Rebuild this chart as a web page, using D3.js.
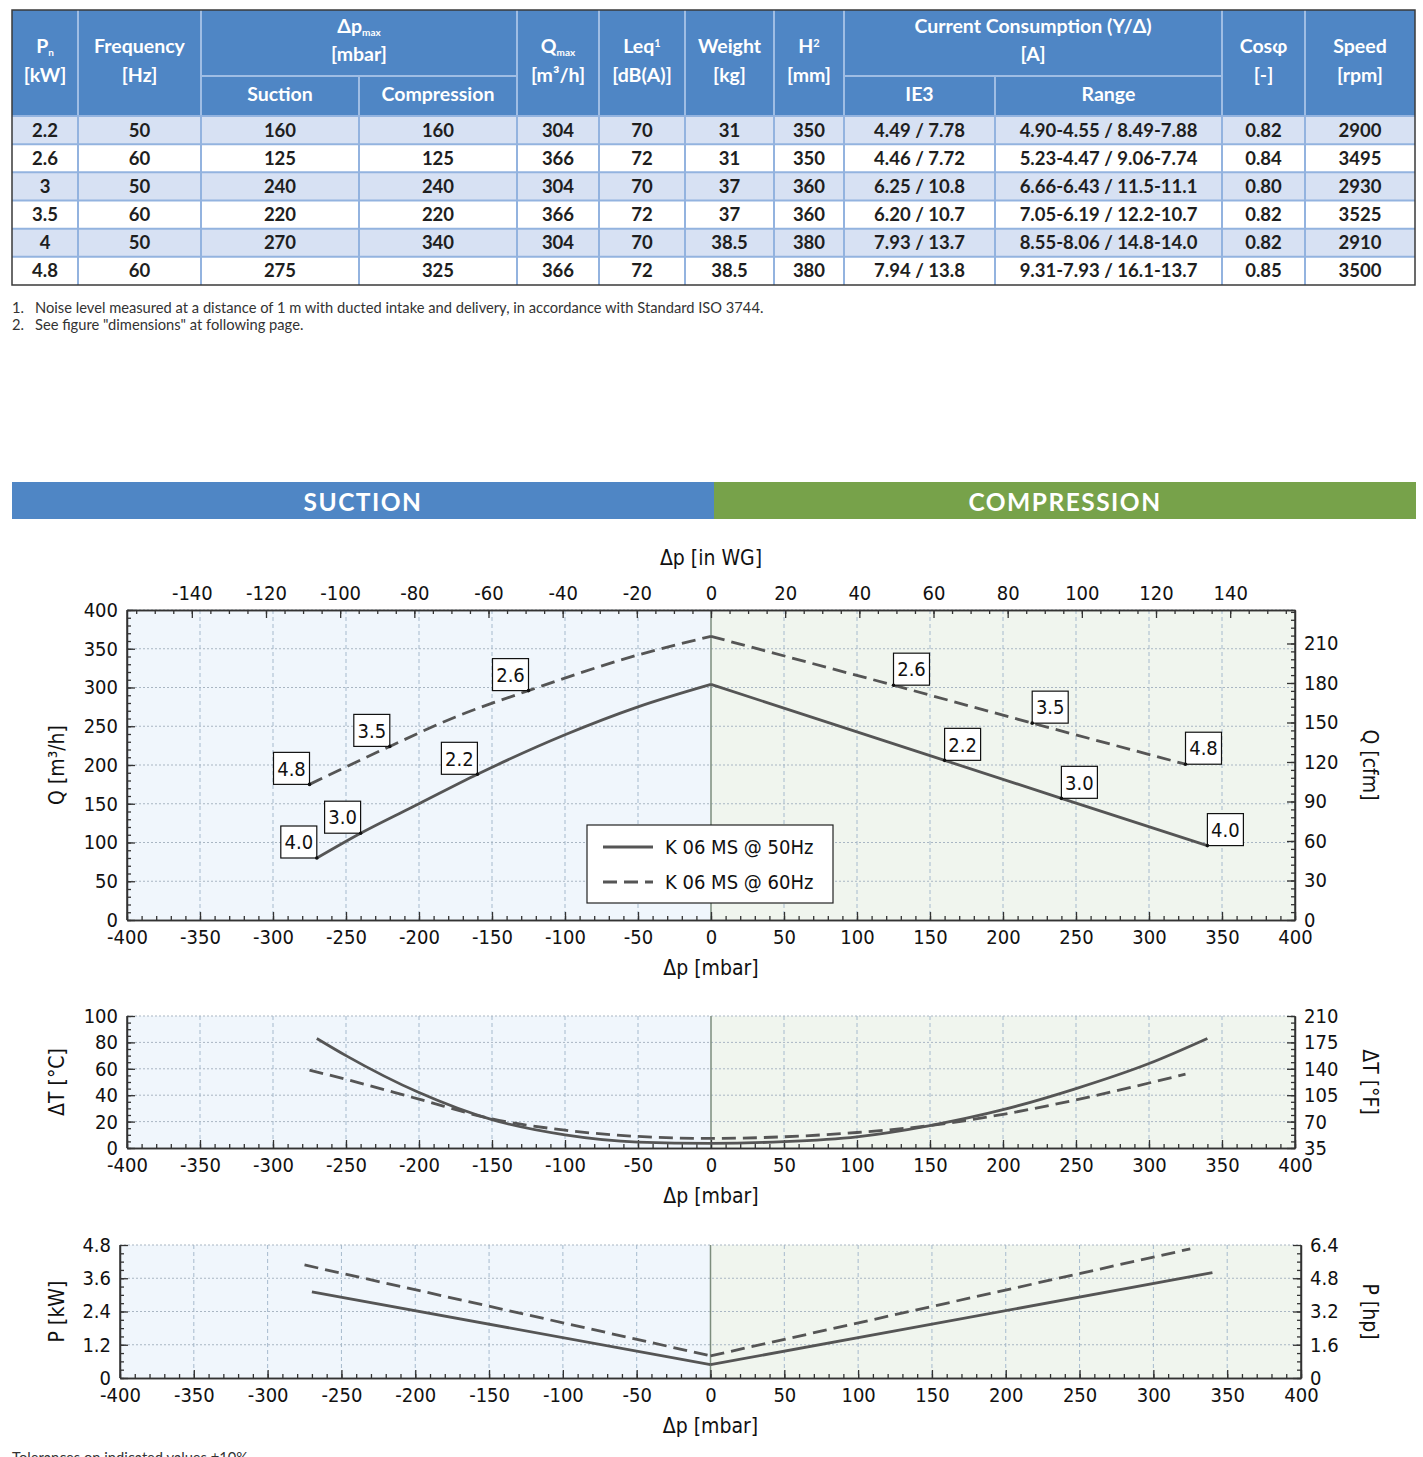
<!DOCTYPE html>
<html><head><meta charset="utf-8">
<script src="https://cdn.jsdelivr.net/npm/d3@7"></script>
<style>body{margin:0;background:#fff}svg{display:block}</style>
</head><body><svg id="c" width="1423" height="1457"></svg>
<script>
// ---------------- TABLE DATA ----------------
const pn = ["2.2","2.6","3","3.5","4","4.8"];
const freq = ["50","60","50","60","50","60"];
const dpSuction = ["160","125","240","220","270","275"];
const dpCompression = ["160","125","240","220","340","325"];
const qmax = ["304","366","304","366","304","366"];
const leq = ["70","72","70","72","70","72"];
const weight = ["31","31","37","37","38.5","38.5"];
const hDim = ["350","350","360","360","380","380"];
const ie3 = ["4.49 / 7.78","4.46 / 7.72","6.25 / 10.8","6.20 / 10.7","7.93 / 13.7","7.94 / 13.8"];
const currRange = ["4.90-4.55 / 8.49-7.88","5.23-4.47 / 9.06-7.74","6.66-6.43 / 11.5-11.1","7.05-6.19 / 12.2-10.7","8.55-8.06 / 14.8-14.0","9.31-7.93 / 16.1-13.7"];
const cosphi = ["0.82","0.84","0.80","0.82","0.82","0.85"];
const speed = ["2900","3495","2930","3525","2910","3500"];
const footnotes = ["Noise level measured at a distance of 1 m with ducted intake and delivery, in accordance with Standard ISO 3744.","See figure \"dimensions\" at following page."];

// ---------------- CHART DATA ----------------
// Q [m3/h] vs dp [mbar]
const q50Suction = [[-270,80],[-240,112],[-200,150],[-160,188],[-100,239],[-50,275],[0,304]];
const q50Compression = [[0,304],[160,206],[240,157],[340,96]];
const q60Suction = [[-275,175],[-220,224],[-175,262],[-125,296],[-50,342],[0,366]];
const q60Compression = [[0,366],[125,303],[220,254],[325,201]];
const pointLabels = [
  {dp:-270,q:80,t:"4.0"},{dp:-240,q:112,t:"3.0"},{dp:-160,q:188,t:"2.2"},
  {dp:-275,q:175,t:"4.8"},{dp:-220,q:224,t:"3.5"},{dp:-125,q:296,t:"2.6"},
  {dp:125,q:303,t:"2.6"},{dp:220,q:254,t:"3.5"},{dp:325,q:201,t:"4.8"},
  {dp:160,q:206,t:"2.2"},{dp:240,q:157,t:"3.0"},{dp:340,q:96,t:"4.0"}
];
// dT [°C]
const t50 = [[-270,83],[-250,70],[-200,42],[-150,21.5],[-100,10],[-50,4.5],[0,3.5],[50,4.8],[100,8.5],[150,17],[200,29],[250,45],[300,64],[340,83]];
const t60 = [[-275,59],[-250,52],[-200,37],[-150,22],[-100,13.5],[-50,8.75],[0,7.25],[50,8.5],[100,11.75],[150,17],[200,25.5],[250,36.5],[325,56]];
// P [kW]
const p50Suction = [[-270,3.11],[0,0.48]];
const p50Compression = [[0,0.48],[340,3.8]];
const p60Suction = [[-275,4.08],[0,0.8]];
const p60Compression = [[0,0.8],[325,4.66]];
const legendLabels = ["K 06 MS @ 50Hz","K 06 MS @ 60Hz"];

// ---------------- DRAW ----------------
const svg = d3.select("#c");
const TF = "Lato, 'Open Sans', sans-serif";
const CF = "'DejaVu Sans Condensed','Liberation Sans Narrow','DejaVu Sans',sans-serif";
const HEAD = "#4f86c5", ROWA = "#d7e1f3", SEP = "#93b3df", HSEP = "#9fbde4";
const plain = d => String(d);

// table
const colX = [12,78,201,359,517,599,685,774,844,995,1222,1305,1415];
const tTop = 10, hMid = 76, hBot = 116, rowH = 28.17;
const tg = svg.append("g");
tg.append("rect").attr("x",12).attr("y",tTop).attr("width",1403).attr("height",hBot-tTop).attr("fill",HEAD);
const cols = [pn,freq,dpSuction,dpCompression,qmax,leq,weight,hDim,ie3,currRange,cosphi,speed];
for(let r=0;r<6;r++){
  const y = hBot + r*rowH;
  tg.append("rect").attr("x",12).attr("y",y).attr("width",1403).attr("height",rowH).attr("fill", r%2===0?ROWA:"#fff");
  if(r>0) tg.append("line").attr("x1",12).attr("x2",1415).attr("y1",y).attr("y2",y).attr("stroke",SEP).attr("stroke-width",2);
  cols.forEach((c,i)=>{
    tg.append("text").attr("x",(colX[i]+colX[i+1])/2).attr("y",y+rowH/2+6.5)
      .attr("text-anchor","middle").attr("font-family",TF).attr("font-weight","bold").attr("font-size",18.5).attr("fill","#1e1e1e").text(c[r]);
  });
}
colX.slice(1,-1).forEach(x=>{
  const sub = (x===359||x===995);
  tg.append("line").attr("x1",x).attr("x2",x).attr("y1",sub?hMid:tTop).attr("y2",hBot).attr("stroke",HSEP).attr("stroke-width",2);
  tg.append("line").attr("x1",x).attr("x2",x).attr("y1",hBot).attr("y2",285).attr("stroke",SEP).attr("stroke-width",2);
});
tg.append("line").attr("x1",201).attr("x2",517).attr("y1",hMid).attr("y2",hMid).attr("stroke",HSEP).attr("stroke-width",2);
tg.append("line").attr("x1",844).attr("x2",1222).attr("y1",hMid).attr("y2",hMid).attr("stroke",HSEP).attr("stroke-width",2);
tg.append("line").attr("x1",12).attr("x2",1415).attr("y1",hBot).attr("y2",hBot).attr("stroke",SEP).attr("stroke-width",2);
tg.append("rect").attr("x",12).attr("y",tTop).attr("width",1403).attr("height",285-tTop).attr("fill","none").attr("stroke","#3a3a3a").attr("stroke-width",1.5);

function htext(cx,y,parts){
  const t = tg.append("text").attr("x",cx).attr("y",y).attr("text-anchor","middle").attr("font-family",TF).attr("font-weight","bold").attr("font-size",19.5).attr("fill","#fff");
  parts.forEach(p=>{
    if(typeof p==="string") t.append("tspan").text(p);
    else t.append("tspan").attr("font-size",p.s||10).attr("baseline-shift",p.sub?"-25%":"55%").text(p.t);
  });
}
const cc = i => (colX[i]+colX[i+1])/2;
htext(cc(0),53,["P",{t:"n",sub:true}]); htext(cc(0),82,["[kW]"]);
htext(cc(1),53,["Frequency"]); htext(cc(1),82,["[Hz]"]);
htext((201+517)/2,33,["Δp",{t:"max",sub:true}]); htext((201+517)/2,61,["[mbar]"]);
htext(cc(2),101,["Suction"]); htext(cc(3),101,["Compression"]);
htext(cc(4),53,["Q",{t:"max",sub:true}]); htext(cc(4),82,["[m³/h]"]);
htext(cc(5),53,["Leq",{t:"1",s:11}]); htext(cc(5),82,["[dB(A)]"]);
htext(cc(6),53,["Weight"]); htext(cc(6),82,["[kg]"]);
htext(cc(7),53,["H",{t:"2",s:11}]); htext(cc(7),82,["[mm]"]);
htext((844+1222)/2,33,["Current Consumption (Y/Δ)"]); htext((844+1222)/2,61,["[A]"]);
htext(cc(8),101,["IE3"]); htext(cc(9),101,["Range"]);
htext(cc(10),53,["Cosφ"]); htext(cc(10),82,["[-]"]);
htext(cc(11),53,["Speed"]); htext(cc(11),82,["[rpm]"]);

footnotes.forEach((f,i)=>{
  svg.append("text").attr("x",12).attr("y",313+i*17).attr("font-family",TF).attr("font-size",14.7).attr("fill","#333").text((i+1)+".");
  svg.append("text").attr("x",35).attr("y",313+i*17).attr("font-family",TF).attr("font-size",14.7).attr("fill","#333").text(f);
});

// banner
svg.append("rect").attr("x",12).attr("y",482).attr("width",702).attr("height",37).attr("fill","#4f86c5");
svg.append("rect").attr("x",714).attr("y",482).attr("width",702).attr("height",37).attr("fill","#77a24a");
[["SUCTION",363],["COMPRESSION",1065]].forEach(([t,x])=>{
  svg.append("text").attr("x",x).attr("y",511).attr("text-anchor","middle").attr("font-family",TF).attr("font-weight","bold")
    .attr("font-size",24.5).attr("letter-spacing",1.5).attr("fill","#fff").text(t);
});

// ---------- panels ----------
const LINEC = "#555";
function styleAxis(sel){
  sel.selectAll(".domain").attr("stroke","#333").attr("stroke-width",1.5);
  sel.selectAll(".tick line").attr("stroke","#333").attr("stroke-width",1.3);
  sel.selectAll("text").attr("font-family",CF).attr("font-size",20).attr("fill","#111");
}
function panel(o){
  const g = svg.append("g");
  const x = d3.scaleLinear().domain([-400,400]).range([o.xl,o.xr]);
  const y = d3.scaleLinear().domain(o.yDom).range([o.yb,o.yt]);
  const yr = d3.scaleLinear().domain(o.rDom).range([o.yb,o.yt]);
  g.append("rect").attr("x",x(-400)).attr("y",o.yt).attr("width",x(0)-x(-400)).attr("height",o.yb-o.yt).attr("fill","#f0f6fc");
  g.append("rect").attr("x",x(0)).attr("y",o.yt).attr("width",x(400)-x(0)).attr("height",o.yb-o.yt).attr("fill","#f0f5ee");
  d3.range(-350,400,50).forEach(v=>{
    if(v===0) return;
    g.append("line").attr("x1",x(v)).attr("x2",x(v)).attr("y1",o.yt).attr("y2",o.yb).attr("stroke","#a6bacd").attr("stroke-width",1).attr("stroke-dasharray","4,3");
  });
  o.yTicks.forEach(v=>{
    if(v===o.yDom[0]) return;
    g.append("line").attr("x1",o.xl).attr("x2",o.xr).attr("y1",y(v)).attr("y2",y(v)).attr("stroke","#a9b6c3").attr("stroke-width",1).attr("stroke-dasharray","2,2");
  });
  g.append("line").attr("x1",x(0)).attr("x2",x(0)).attr("y1",o.yt).attr("y2",o.yb).attr("stroke","#7d8d7d").attr("stroke-width",1.5);

  const bMaj = d3.range(-400,401,50), bMin = d3.range(-400,401,10);
  g.append("g").attr("transform",`translate(0,${o.yb})`).call(d3.axisBottom(x).tickValues(bMin).tickSize(-4).tickFormat("").tickSizeOuter(0)).call(styleAxis);
  g.append("g").attr("transform",`translate(0,${o.yb})`).call(d3.axisBottom(x).tickValues(bMaj).tickSize(-8).tickPadding(10).tickFormat(plain).tickSizeOuter(0)).call(styleAxis);
  g.append("g").attr("transform",`translate(${o.xl},0)`).call(d3.axisLeft(y).tickValues(o.yMinor).tickSize(-4).tickFormat("").tickSizeOuter(0)).call(styleAxis);
  g.append("g").attr("transform",`translate(${o.xl},0)`).call(d3.axisLeft(y).tickValues(o.yTicks).tickSize(-8).tickPadding(9).tickFormat(o.yFmt).tickSizeOuter(0)).call(styleAxis).select(".domain").remove();
  g.append("line").attr("x1",o.xl).attr("x2",o.xl).attr("y1",o.yt).attr("y2",o.yb).attr("stroke","#333").attr("stroke-width",1.5);
  g.append("g").attr("transform",`translate(${o.xr},0)`).call(d3.axisRight(yr).tickValues(o.rMinor).tickSize(-4).tickFormat("").tickSizeOuter(0)).call(styleAxis);
  g.append("g").attr("transform",`translate(${o.xr},0)`).call(d3.axisRight(yr).tickValues(o.rTicks).tickSize(-8).tickPadding(9).tickFormat(o.rFmt).tickSizeOuter(0)).call(styleAxis).select(".domain").remove();
  g.append("line").attr("x1",o.xr).attr("x2",o.xr).attr("y1",o.yt).attr("y2",o.yb).attr("stroke","#333").attr("stroke-width",1.5);
  const tt = (tx,ty,rot,txt)=> g.append("text").attr("transform",`translate(${tx},${ty}) rotate(${rot})`).attr("text-anchor","middle").attr("dy","0.35em")
      .attr("font-family",CF).attr("font-size",21).attr("fill","#111").text(txt);
  tt(x(0), o.yb+48, 0, "Δp [mbar]");
  tt(57,(o.yt+o.yb)/2,-90,o.lTitle);
  tt(1370,(o.yt+o.yb)/2,90,o.rTitle);
  return {g,x,y};
}

// main Q panel
const main = panel({xl:127,xr:1295,yb:920,yt:610,yDom:[0,400],yTicks:d3.range(0,401,50),yMinor:d3.range(0,401,10),yFmt:plain,
  rDom:[0,400/1.699],rTicks:d3.range(0,211,30),rMinor:d3.range(0,235,6),rFmt:plain,lTitle:"Q [m³/h]",rTitle:"Q [cfm]"});
{
  const xt = d3.scaleLinear().domain([-400/2.54,400/2.54]).range([127,1295]);
  main.g.append("g").attr("transform","translate(0,610)").call(d3.axisTop(xt).tickValues(d3.range(-155,156,5)).tickSize(-4).tickFormat("").tickSizeOuter(0)).call(styleAxis);
  main.g.append("g").attr("transform","translate(0,610)").call(d3.axisTop(xt).tickValues(d3.range(-140,141,20)).tickSize(-8).tickPadding(10).tickFormat(plain).tickSizeOuter(0)).call(styleAxis);
  main.g.append("text").attr("x",711).attr("y",558).attr("dy","0.35em").attr("text-anchor","middle").attr("font-family",CF).attr("font-size",21).attr("fill","#111").text("Δp [in WG]");
}
function curve(p, pts, dashed, smooth){
  const ln = d3.line().x(d=>p.x(d[0])).y(d=>p.y(d[1])).curve(smooth?d3.curveMonotoneX:d3.curveLinear);
  p.g.append("path").attr("d",ln(pts)).attr("fill","none").attr("stroke",LINEC).attr("stroke-width",2.8)
    .attr("stroke-dasharray",dashed?"14,7":null);
}
curve(main,q50Suction,false,true); curve(main,q50Compression,false,false);
curve(main,q60Suction,true,true); curve(main,q60Compression,true,false);
pointLabels.forEach(d=>{
  const px = main.x(d.dp), py = main.y(d.q);
  const w=36,h=32, bx = d.dp<0? px-w : px;
  main.g.append("rect").attr("x",bx).attr("y",py-h).attr("width",w).attr("height",h).attr("fill","#fff").attr("stroke","#111").attr("stroke-width",1.2);
  main.g.append("text").attr("x",bx+w/2).attr("y",py-h/2).attr("dy","0.36em").attr("text-anchor","middle").attr("font-family",CF).attr("font-size",20).attr("fill","#111").text(d.t);
  main.g.append("circle").attr("cx",px).attr("cy",py).attr("r",1.8).attr("fill","#111");
});
{
  const lg = main.g.append("g");
  lg.append("rect").attr("x",587).attr("y",825).attr("width",246).attr("height",78).attr("fill","#fff").attr("stroke","#222").attr("stroke-width",1.2);
  legendLabels.forEach((t,i)=>{
    const yy = 847+i*35;
    lg.append("line").attr("x1",603).attr("x2",653).attr("y1",yy).attr("y2",yy).attr("stroke",LINEC).attr("stroke-width",2.8).attr("stroke-dasharray",i?"14,7":null);
    lg.append("text").attr("x",665).attr("y",yy).attr("dy","0.35em").attr("font-family",CF).attr("font-size",20).attr("fill","#111").text(t);
  });
}

// dT panel
const tp = panel({xl:127,xr:1295,yb:1148,yt:1016,yDom:[0,100],yTicks:d3.range(0,101,20),yMinor:d3.range(0,101,5),yFmt:plain,
  rDom:[35,210],rTicks:d3.range(35,211,35),rMinor:d3.range(35,211,8.75),rFmt:plain,lTitle:"ΔT [°C]",rTitle:"ΔT [°F]"});
curve(tp,t50,false,true); curve(tp,t60,true,true);

// P panel
const f1 = v=> v===0?"0":v.toFixed(1);
const pp = panel({xl:120,xr:1301,yb:1378,yt:1245,yDom:[0,4.8],yTicks:[0,1.2,2.4,3.6,4.8],yMinor:d3.range(0,16).map(i=>+(i*0.3).toFixed(2)),yFmt:f1,
  rDom:[0,6.4],rTicks:[0,1.6,3.2,4.8,6.4],rMinor:d3.range(0,16).map(i=>+(i*0.4).toFixed(2)),rFmt:f1,lTitle:"P [kW]",rTitle:"P [hp]"});
curve(pp,p50Suction,false,false); curve(pp,p50Compression,false,false);
curve(pp,p60Suction,true,false); curve(pp,p60Compression,true,false);

svg.append("text").attr("x",12).attr("y",1463).attr("font-family",TF).attr("font-size",14.7).attr("fill","#333").text("Tolerances on indicated values ±10%");
</script></body></html>
